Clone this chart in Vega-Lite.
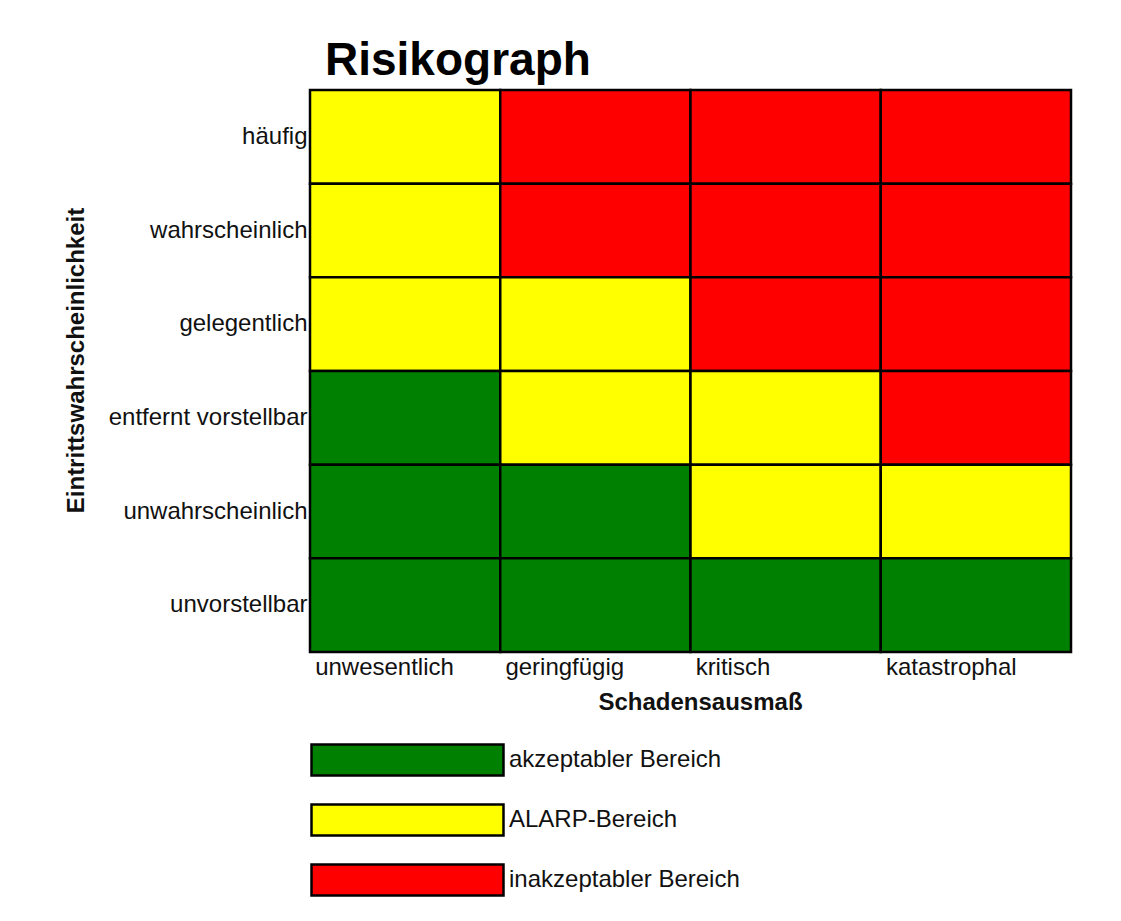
{
  "$schema": "https://vega.github.io/schema/vega-lite/v6.json",
  "width": 761,
  "height": 562,
  "autosize": "none",
  "padding": {"left": 310, "top": 90, "right": 50, "bottom": 269},
  "background": "white",
  "title": {
    "text": "Risikograph",
    "anchor": "start",
    "frame": "group",
    "font": "Liberation Sans",
    "fontSize": 46,
    "fontWeight": "bold",
    "color": "black",
    "baseline": "alphabetic",
    "offset": 15,
    "dx": 15,
    "dy": 47
  },
  "data": {
    "values": [
      {"Wahrscheinlichkeit": "häufig", "Schaden": "unwesentlich", "Bereich": "ALARP-Bereich"},
      {"Wahrscheinlichkeit": "häufig", "Schaden": "geringfügig", "Bereich": "inakzeptabler Bereich"},
      {"Wahrscheinlichkeit": "häufig", "Schaden": "kritisch", "Bereich": "inakzeptabler Bereich"},
      {"Wahrscheinlichkeit": "häufig", "Schaden": "katastrophal", "Bereich": "inakzeptabler Bereich"},
      {"Wahrscheinlichkeit": "wahrscheinlich", "Schaden": "unwesentlich", "Bereich": "ALARP-Bereich"},
      {"Wahrscheinlichkeit": "wahrscheinlich", "Schaden": "geringfügig", "Bereich": "inakzeptabler Bereich"},
      {"Wahrscheinlichkeit": "wahrscheinlich", "Schaden": "kritisch", "Bereich": "inakzeptabler Bereich"},
      {"Wahrscheinlichkeit": "wahrscheinlich", "Schaden": "katastrophal", "Bereich": "inakzeptabler Bereich"},
      {"Wahrscheinlichkeit": "gelegentlich", "Schaden": "unwesentlich", "Bereich": "ALARP-Bereich"},
      {"Wahrscheinlichkeit": "gelegentlich", "Schaden": "geringfügig", "Bereich": "ALARP-Bereich"},
      {"Wahrscheinlichkeit": "gelegentlich", "Schaden": "kritisch", "Bereich": "inakzeptabler Bereich"},
      {"Wahrscheinlichkeit": "gelegentlich", "Schaden": "katastrophal", "Bereich": "inakzeptabler Bereich"},
      {"Wahrscheinlichkeit": "entfernt vorstellbar", "Schaden": "unwesentlich", "Bereich": "akzeptabler Bereich"},
      {"Wahrscheinlichkeit": "entfernt vorstellbar", "Schaden": "geringfügig", "Bereich": "ALARP-Bereich"},
      {"Wahrscheinlichkeit": "entfernt vorstellbar", "Schaden": "kritisch", "Bereich": "ALARP-Bereich"},
      {"Wahrscheinlichkeit": "entfernt vorstellbar", "Schaden": "katastrophal", "Bereich": "inakzeptabler Bereich"},
      {"Wahrscheinlichkeit": "unwahrscheinlich", "Schaden": "unwesentlich", "Bereich": "akzeptabler Bereich"},
      {"Wahrscheinlichkeit": "unwahrscheinlich", "Schaden": "geringfügig", "Bereich": "akzeptabler Bereich"},
      {"Wahrscheinlichkeit": "unwahrscheinlich", "Schaden": "kritisch", "Bereich": "ALARP-Bereich"},
      {"Wahrscheinlichkeit": "unwahrscheinlich", "Schaden": "katastrophal", "Bereich": "ALARP-Bereich"},
      {"Wahrscheinlichkeit": "unvorstellbar", "Schaden": "unwesentlich", "Bereich": "akzeptabler Bereich"},
      {"Wahrscheinlichkeit": "unvorstellbar", "Schaden": "geringfügig", "Bereich": "akzeptabler Bereich"},
      {"Wahrscheinlichkeit": "unvorstellbar", "Schaden": "kritisch", "Bereich": "akzeptabler Bereich"},
      {"Wahrscheinlichkeit": "unvorstellbar", "Schaden": "katastrophal", "Bereich": "akzeptabler Bereich"}
    ]
  },
  "mark": {"type": "rect", "stroke": "black", "strokeWidth": 2.5},
  "encoding": {
    "x": {
      "field": "Schaden",
      "type": "ordinal",
      "sort": ["unwesentlich", "geringfügig", "kritisch", "katastrophal"],
      "scale": {"paddingInner": 0, "paddingOuter": 0},
      "title": "Schadensausmaß",
      "axis": {
        "domain": false,
        "ticks": false,
        "grid": false,
        "labelAlign": "left",
        "labelAngle": 0,
        "labelOffset": -90,
        "labelPadding": 3,
        "labelFont": "Liberation Sans",
        "labelFontSize": 24,
        "labelColor": "#111",
        "titleFont": "Liberation Sans",
        "titleFontSize": 24,
        "titleFontWeight": "bold",
        "titleColor": "#111",
        "titleAlign": "center",
        "titleBaseline": "alphabetic",
        "titleX": 390,
        "titleY": 57
      }
    },
    "y": {
      "field": "Wahrscheinlichkeit",
      "type": "ordinal",
      "sort": ["häufig", "wahrscheinlich", "gelegentlich", "entfernt vorstellbar", "unwahrscheinlich", "unvorstellbar"],
      "scale": {"paddingInner": 0, "paddingOuter": 0},
      "title": "Eintrittswahrscheinlichkeit",
      "axis": {
        "domain": false,
        "ticks": false,
        "grid": false,
        "labelPadding": 3,
        "labelFont": "Liberation Sans",
        "labelFontSize": 24,
        "labelColor": "#111",
        "labelLimit": 300,
        "titleFont": "Liberation Sans",
        "titleFontSize": 24,
        "titleFontWeight": "bold",
        "titleColor": "#111",
        "titleAngle": -90,
        "titleAlign": "center",
        "titleBaseline": "middle",
        "titleX": -234,
        "titleY": 270
      }
    },
    "fill": {
      "field": "Bereich",
      "type": "nominal",
      "scale": {
        "domain": ["akzeptabler Bereich", "ALARP-Bereich", "inakzeptabler Bereich"],
        "range": ["#008000", "#FFFF00", "#FF0000"]
      },
      "legend": {
        "title": null,
        "orient": "none",
        "legendX": 0,
        "legendY": 653,
        "padding": 0,
        "symbolType": "M-1,-1L11.387,-1L11.387,1L-1,1Z",
        "symbolSize": 961,
        "symbolStrokeColor": "black",
        "symbolStrokeWidth": 2.5,
        "symbolOpacity": 1,
        "rowPadding": 18,
        "labelOffset": 165,
        "labelFont": "Liberation Sans",
        "labelFontSize": 24,
        "labelColor": "#111",
        "labelLimit": 400
      }
    }
  },
  "config": {"view": {"stroke": null}}
}
